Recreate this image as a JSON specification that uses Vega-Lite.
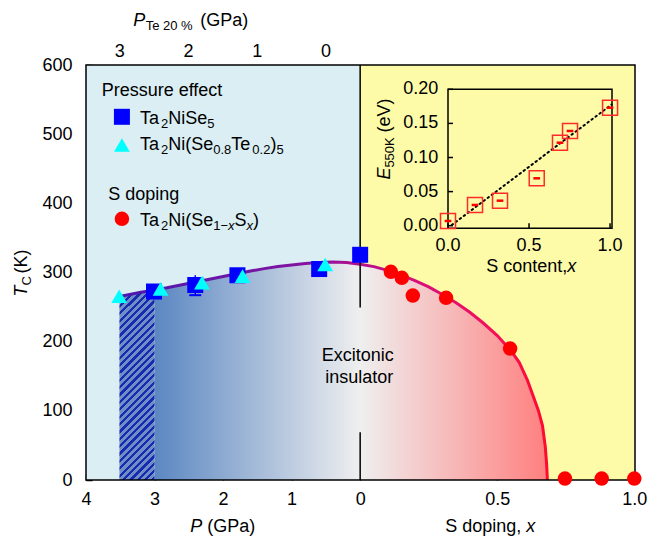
{
"$schema": "https://vega.github.io/schema/vega-lite/v6.json",
"width": 549, "height": 415,
"autosize": {"type": "none"},
"padding": {"left": 86, "top": 65, "right": 14, "bottom": 58},
"config": {
  "view": {"stroke": null},
  "axis": {"grid": false, "domain": false, "labelFont": "Liberation Sans", "labelFontSize": 18, "labelColor": "black", "tickColor": "black", "tickWidth": 1.5, "tickSize": -6, "labelOverlap": false, "labelFlush": false, "zindex": 1},
  "text": {"font": "Liberation Sans", "fontSize": 18, "color": "black"}
},
"datasets": {
  "curve": [
    {"u": -0.878, "T": 265.4}, {"u": -0.85, "T": 267.4}, {"u": -0.8, "T": 271.3}, {"u": -0.75, "T": 274.3},
    {"u": -0.7, "T": 278.3}, {"u": -0.65, "T": 282.2}, {"u": -0.6, "T": 286.2}, {"u": -0.55, "T": 290.2},
    {"u": -0.5, "T": 294.2}, {"u": -0.45, "T": 298.1}, {"u": -0.4, "T": 302.1}, {"u": -0.35, "T": 305.6},
    {"u": -0.3, "T": 308.6}, {"u": -0.25, "T": 311}, {"u": -0.2, "T": 313}, {"u": -0.15, "T": 314.3},
    {"u": -0.1, "T": 315}, {"u": -0.05, "T": 314.5}, {"u": 0, "T": 312}, {"u": 0.05, "T": 308.5},
    {"u": 0.1, "T": 303}, {"u": 0.15, "T": 296.1}, {"u": 0.2, "T": 288.2}, {"u": 0.25, "T": 279.3},
    {"u": 0.3, "T": 268.3}, {"u": 0.35, "T": 256.4}, {"u": 0.4, "T": 242.5}, {"u": 0.45, "T": 226.6},
    {"u": 0.5, "T": 208.8}, {"u": 0.55, "T": 187}, {"u": 0.58, "T": 170.1}, {"u": 0.61, "T": 144.3},
    {"u": 0.63, "T": 122.4}, {"u": 0.65, "T": 100.6}, {"u": 0.665, "T": 78.7}, {"u": 0.675, "T": 49},
    {"u": 0.68, "T": 24.1}, {"u": 0.683, "T": 0}
  ],
  "sq": [{"u": -0.752, "T": 272.5}, {"u": -0.6015, "T": 281.9}, {"u": -0.4477, "T": 296}, {"u": -0.1495, "T": 305}, {"u": 0, "T": 325.6}],
  "tri": [{"u": -0.879, "T": 265.7}, {"u": -0.728, "T": 276.4}, {"u": -0.577, "T": 285.4}, {"u": -0.429, "T": 294.7}, {"u": -0.1276, "T": 311.6}],
  "circ": [{"u": 0.112, "T": 301}, {"u": 0.152, "T": 292.3}, {"u": 0.192, "T": 266.7}, {"u": 0.3135, "T": 263.4}, {"u": 0.547, "T": 190.1}, {"u": 0.747, "T": 2}, {"u": 0.881, "T": 2}, {"u": 1.0, "T": 2}],
  "inset": [{"x": 0, "E": 0.0069}, {"x": 0.1667, "E": 0.0304}, {"x": 0.321, "E": 0.0367}, {"x": 0.5475, "E": 0.0695}, {"x": 0.691, "E": 0.1217}, {"x": 0.753, "E": 0.1389}, {"x": 1.0, "E": 0.173}],
  "fit": [{"x": 0.023, "E": 0.001}, {"x": 1.01, "E": 0.1777}],
  "iyt": [{"v": 0, "lab": "0.00"}, {"v": 0.05, "lab": "0.05"}, {"v": 0.1, "lab": "0.10"}, {"v": 0.15, "lab": "0.15"}, {"v": 0.2, "lab": "0.20"}],
  "ixt": [{"v": 0, "lab": "0.0"}, {"v": 0.5, "lab": "0.5"}, {"v": 1, "lab": "1.0"}]
},
"layer": [
 {
  "data": {"values": [{}]},
  "layer": [
   {"mark": {"type": "rect", "fill": "#DAEEF3"},
    "encoding": {
      "x": {"datum": -1, "type": "quantitative", "scale": {"domain": [-1, 1.0025], "nice": false, "zero": false}, "axis": null},
      "x2": {"datum": 0},
      "y": {"datum": 0, "type": "quantitative", "scale": {"domain": [0, 600], "nice": false, "zero": false}, "axis": null},
      "y2": {"datum": 600}}},
   {"mark": {"type": "rect", "fill": "#FDFBA8"},
    "encoding": {"x": {"datum": 0, "axis": null}, "x2": {"datum": 1.0025}, "y": {"datum": 0, "axis": null}, "y2": {"datum": 600}}},
   {"data": {"name": "curve"}, "transform": [{"filter": "datum.u >= -0.75"}],
    "mark": {"type": "area", "fill": {"gradient": "linear", "x1": 0, "y1": 0, "x2": 1, "y2": 0, "stops": [{"offset": 0, "color": "#5B87C2"}, {"offset": 0.5234, "color": "#EFEFEF"}, {"offset": 1, "color": "#FF7F7F"}]}},
    "encoding": {"x": {"field": "u", "type": "quantitative", "axis": null}, "y": {"field": "T", "type": "quantitative", "axis": null}}},
   {"data": {"name": "curve"}, "transform": [{"filter": "datum.u <= -0.75"}],
    "mark": {"type": "area", "fill": {"gradient": "linear", "x1": 0, "y1": 0, "x2": 0.2119, "y2": 1.146, "stops": [
      {"offset":0,"color":"#1A2AB0"},{"offset":0.014,"color":"#1A2AB0"},{"offset":0.014,"color":"#6D8FC6"},{"offset":0.0328,"color":"#6D8FC6"},
      {"offset":0.0328,"color":"#1A2AB0"},{"offset":0.0468,"color":"#1A2AB0"},{"offset":0.0468,"color":"#6D8FC6"},{"offset":0.0656,"color":"#6D8FC6"},
      {"offset":0.0656,"color":"#1A2AB0"},{"offset":0.0796,"color":"#1A2AB0"},{"offset":0.0796,"color":"#6D8FC6"},{"offset":0.0984,"color":"#6D8FC6"},
      {"offset":0.0984,"color":"#1A2AB0"},{"offset":0.1124,"color":"#1A2AB0"},{"offset":0.1124,"color":"#6D8FC6"},{"offset":0.1312,"color":"#6D8FC6"},
      {"offset":0.1312,"color":"#1A2AB0"},{"offset":0.1452,"color":"#1A2AB0"},{"offset":0.1452,"color":"#6D8FC6"},{"offset":0.164,"color":"#6D8FC6"},
      {"offset":0.164,"color":"#1A2AB0"},{"offset":0.178,"color":"#1A2AB0"},{"offset":0.178,"color":"#6D8FC6"},{"offset":0.1968,"color":"#6D8FC6"},
      {"offset":0.1968,"color":"#1A2AB0"},{"offset":0.2108,"color":"#1A2AB0"},{"offset":0.2108,"color":"#6D8FC6"},{"offset":0.2296,"color":"#6D8FC6"},
      {"offset":0.2296,"color":"#1A2AB0"},{"offset":0.2436,"color":"#1A2AB0"},{"offset":0.2436,"color":"#6D8FC6"},{"offset":0.2624,"color":"#6D8FC6"},
      {"offset":0.2624,"color":"#1A2AB0"},{"offset":0.2764,"color":"#1A2AB0"},{"offset":0.2764,"color":"#6D8FC6"},{"offset":0.2952,"color":"#6D8FC6"},
      {"offset":0.2952,"color":"#1A2AB0"},{"offset":0.3092,"color":"#1A2AB0"},{"offset":0.3092,"color":"#6D8FC6"},{"offset":0.328,"color":"#6D8FC6"},
      {"offset":0.328,"color":"#1A2AB0"},{"offset":0.342,"color":"#1A2AB0"},{"offset":0.342,"color":"#6D8FC6"},{"offset":0.3608,"color":"#6D8FC6"},
      {"offset":0.3608,"color":"#1A2AB0"},{"offset":0.3748,"color":"#1A2AB0"},{"offset":0.3748,"color":"#6D8FC6"},{"offset":0.3936,"color":"#6D8FC6"},
      {"offset":0.3936,"color":"#1A2AB0"},{"offset":0.4076,"color":"#1A2AB0"},{"offset":0.4076,"color":"#6D8FC6"},{"offset":0.4264,"color":"#6D8FC6"},
      {"offset":0.4264,"color":"#1A2AB0"},{"offset":0.4404,"color":"#1A2AB0"},{"offset":0.4404,"color":"#6D8FC6"},{"offset":0.4592,"color":"#6D8FC6"},
      {"offset":0.4592,"color":"#1A2AB0"},{"offset":0.4732,"color":"#1A2AB0"},{"offset":0.4732,"color":"#6D8FC6"},{"offset":0.492,"color":"#6D8FC6"},
      {"offset":0.492,"color":"#1A2AB0"},{"offset":0.506,"color":"#1A2AB0"},{"offset":0.506,"color":"#6D8FC6"},{"offset":0.5248,"color":"#6D8FC6"},
      {"offset":0.5248,"color":"#1A2AB0"},{"offset":0.5388,"color":"#1A2AB0"},{"offset":0.5388,"color":"#6D8FC6"},{"offset":0.5576,"color":"#6D8FC6"},
      {"offset":0.5576,"color":"#1A2AB0"},{"offset":0.5716,"color":"#1A2AB0"},{"offset":0.5716,"color":"#6D8FC6"},{"offset":0.5904,"color":"#6D8FC6"},
      {"offset":0.5904,"color":"#1A2AB0"},{"offset":0.6044,"color":"#1A2AB0"},{"offset":0.6044,"color":"#6D8FC6"},{"offset":0.6232,"color":"#6D8FC6"},
      {"offset":0.6232,"color":"#1A2AB0"},{"offset":0.6372,"color":"#1A2AB0"},{"offset":0.6372,"color":"#6D8FC6"},{"offset":0.656,"color":"#6D8FC6"},
      {"offset":0.656,"color":"#1A2AB0"},{"offset":0.67,"color":"#1A2AB0"},{"offset":0.67,"color":"#6D8FC6"},{"offset":0.6888,"color":"#6D8FC6"},
      {"offset":0.6888,"color":"#1A2AB0"},{"offset":0.7028,"color":"#1A2AB0"},{"offset":0.7028,"color":"#6D8FC6"},{"offset":0.7216,"color":"#6D8FC6"},
      {"offset":0.7216,"color":"#1A2AB0"},{"offset":0.7356,"color":"#1A2AB0"},{"offset":0.7356,"color":"#6D8FC6"},{"offset":0.7544,"color":"#6D8FC6"},
      {"offset":0.7544,"color":"#1A2AB0"},{"offset":0.7684,"color":"#1A2AB0"},{"offset":0.7684,"color":"#6D8FC6"},{"offset":0.7872,"color":"#6D8FC6"},
      {"offset":0.7872,"color":"#1A2AB0"},{"offset":0.8012,"color":"#1A2AB0"},{"offset":0.8012,"color":"#6D8FC6"},{"offset":0.82,"color":"#6D8FC6"},
      {"offset":0.82,"color":"#1A2AB0"},{"offset":0.834,"color":"#1A2AB0"},{"offset":0.834,"color":"#6D8FC6"},{"offset":0.8528,"color":"#6D8FC6"},
      {"offset":0.8528,"color":"#1A2AB0"},{"offset":0.8668,"color":"#1A2AB0"},{"offset":0.8668,"color":"#6D8FC6"},{"offset":0.8856,"color":"#6D8FC6"},
      {"offset":0.8856,"color":"#1A2AB0"},{"offset":0.8996,"color":"#1A2AB0"},{"offset":0.8996,"color":"#6D8FC6"},{"offset":0.9184,"color":"#6D8FC6"},
      {"offset":0.9184,"color":"#1A2AB0"},{"offset":0.9324,"color":"#1A2AB0"},{"offset":0.9324,"color":"#6D8FC6"},{"offset":0.9512,"color":"#6D8FC6"},
      {"offset":0.9512,"color":"#1A2AB0"},{"offset":0.9652,"color":"#1A2AB0"},{"offset":0.9652,"color":"#6D8FC6"},{"offset":0.984,"color":"#6D8FC6"},
      {"offset":0.984,"color":"#1A2AB0"},{"offset":0.998,"color":"#1A2AB0"},{"offset":0.998,"color":"#6D8FC6"},{"offset":1,"color":"#6D8FC6"}
    ]}},
    "encoding": {"x": {"field": "u", "type": "quantitative", "axis": null}, "y": {"field": "T", "type": "quantitative", "axis": null}}},
   {"data": {"name": "curve"},
    "mark": {"type": "line", "strokeWidth": 3, "stroke": {"gradient": "linear", "x1": 0, "y1": 0, "x2": 1, "y2": 0, "stops": [{"offset": 0, "color": "#4A18B0"}, {"offset": 0.42, "color": "#8214A0"}, {"offset": 0.5625, "color": "#B4108C"}, {"offset": 0.7, "color": "#D8107A"}, {"offset": 0.87, "color": "#F5105A"}, {"offset": 1, "color": "#FF0A2E"}]}},
    "encoding": {"x": {"field": "u", "type": "quantitative", "axis": null}, "y": {"field": "T", "type": "quantitative", "axis": null}}},
   {"mark": {"type": "rule", "color": "black", "strokeWidth": 1.5},
    "encoding": {"x": {"datum": 0, "axis": null}, "y": {"datum": 249.4, "axis": null}, "y2": {"datum": 600}}},
   {"mark": {"type": "rule", "color": "black", "strokeWidth": 1.5},
    "encoding": {"x": {"datum": 0, "axis": null}, "y": {"datum": 0, "axis": null}, "y2": {"datum": 69.1}}},
   {"mark": {"type": "rect", "fill": "transparent", "stroke": "black", "strokeWidth": 1.5},
    "encoding": {"x": {"datum": -1, "axis": null}, "x2": {"datum": 1.0025}, "y": {"datum": 0, "axis": null}, "y2": {"datum": 600}}},
   {"mark": {"type": "rule", "color": "#0000FF", "strokeWidth": 1.5},
    "encoding": {"x": {"datum": -0.6015, "axis": null}, "y": {"datum": 267.2, "axis": null}, "y2": {"datum": 296}}},
   {"mark": {"type": "point", "shape": "M-1,0L1,0", "filled": false, "stroke": "#0000FF", "strokeWidth": 2, "size": 144, "opacity": 1},
    "encoding": {"x": {"datum": -0.6015, "axis": null}, "y": {"datum": 267.2, "axis": null}}},
   {"data": {"name": "sq"}, "mark": {"type": "point", "shape": "square", "filled": true, "color": "#0000FF", "size": 256, "opacity": 1},
    "encoding": {"x": {"field": "u", "type": "quantitative", "axis": null}, "y": {"field": "T", "type": "quantitative", "axis": null}}},
   {"data": {"name": "tri"}, "mark": {"type": "point", "shape": "triangle-up", "filled": true, "color": "#00FFFF", "size": 250, "opacity": 1},
    "encoding": {"x": {"field": "u", "type": "quantitative", "axis": null}, "y": {"field": "T", "type": "quantitative", "axis": null}}},
   {"data": {"name": "circ"}, "mark": {"type": "point", "shape": "circle", "filled": true, "color": "#FF0000", "size": 210, "opacity": 1},
    "encoding": {"x": {"field": "u", "type": "quantitative", "axis": null}, "y": {"field": "T", "type": "quantitative", "axis": null}}},
   {"mark": {"type": "point", "shape": "square", "filled": true, "color": "#0000FF", "size": 256, "opacity": 1},
    "encoding": {"x": {"datum": -0.869, "axis": null}, "y": {"datum": 525.1, "axis": null}}},
   {"mark": {"type": "point", "shape": "triangle-up", "filled": true, "color": "#00FFFF", "size": 250, "opacity": 1},
    "encoding": {"x": {"datum": -0.869, "axis": null}, "y": {"datum": 484.3, "axis": null}}},
   {"mark": {"type": "point", "shape": "circle", "filled": true, "color": "#FF0000", "size": 210, "opacity": 1},
    "encoding": {"x": {"datum": -0.869, "axis": null}, "y": {"datum": 377.6, "axis": null}}},

   {"mark": {"type": "text", "text": "Pressure effect", "align": "left", "baseline": "alphabetic"},
    "encoding": {"x": {"datum": -0.943, "axis": null}, "y": {"datum": 555.9, "axis": null}}},
   {"mark": {"type": "text", "text": "S doping", "align": "left", "baseline": "alphabetic"},
    "encoding": {"x": {"datum": -0.9186, "axis": null}, "y": {"datum": 405.5, "axis": null}}},

   {"mark": {"type": "text", "text": "Ta", "align": "left", "baseline": "alphabetic"}, "encoding": {"x": {"datum": -0.803, "axis": null}, "y": {"datum": 515, "axis": null}}},
   {"mark": {"type": "text", "text": "2", "align": "left", "baseline": "alphabetic", "fontSize": 13, "dx": 21, "dy": 4}, "encoding": {"x": {"datum": -0.803, "axis": null}, "y": {"datum": 515, "axis": null}}},
   {"mark": {"type": "text", "text": "NiSe", "align": "left", "baseline": "alphabetic", "dx": 28.2}, "encoding": {"x": {"datum": -0.803, "axis": null}, "y": {"datum": 515, "axis": null}}},
   {"mark": {"type": "text", "text": "5", "align": "left", "baseline": "alphabetic", "fontSize": 13, "dx": 67.2, "dy": 4}, "encoding": {"x": {"datum": -0.803, "axis": null}, "y": {"datum": 515, "axis": null}}},

   {"mark": {"type": "text", "text": "Ta", "align": "left", "baseline": "alphabetic"}, "encoding": {"x": {"datum": -0.803, "axis": null}, "y": {"datum": 476.8, "axis": null}}},
   {"mark": {"type": "text", "text": "2", "align": "left", "baseline": "alphabetic", "fontSize": 13, "dx": 21, "dy": 4}, "encoding": {"x": {"datum": -0.803, "axis": null}, "y": {"datum": 476.8, "axis": null}}},
   {"mark": {"type": "text", "text": "Ni(Se", "align": "left", "baseline": "alphabetic", "dx": 28.2}, "encoding": {"x": {"datum": -0.803, "axis": null}, "y": {"datum": 476.8, "axis": null}}},
   {"mark": {"type": "text", "text": "0.8", "align": "left", "baseline": "alphabetic", "fontSize": 13, "dx": 73.2, "dy": 4}, "encoding": {"x": {"datum": -0.803, "axis": null}, "y": {"datum": 476.8, "axis": null}}},
   {"mark": {"type": "text", "text": "Te", "align": "left", "baseline": "alphabetic", "dx": 91.3}, "encoding": {"x": {"datum": -0.803, "axis": null}, "y": {"datum": 476.8, "axis": null}}},
   {"mark": {"type": "text", "text": "0.2", "align": "left", "baseline": "alphabetic", "fontSize": 13, "dx": 112.3, "dy": 4}, "encoding": {"x": {"datum": -0.803, "axis": null}, "y": {"datum": 476.8, "axis": null}}},
   {"mark": {"type": "text", "text": ")", "align": "left", "baseline": "alphabetic", "dx": 130.4}, "encoding": {"x": {"datum": -0.803, "axis": null}, "y": {"datum": 476.8, "axis": null}}},
   {"mark": {"type": "text", "text": "5", "align": "left", "baseline": "alphabetic", "fontSize": 13, "dx": 136.4, "dy": 4}, "encoding": {"x": {"datum": -0.803, "axis": null}, "y": {"datum": 476.8, "axis": null}}},

   {"mark": {"type": "text", "text": "Ta", "align": "left", "baseline": "alphabetic"}, "encoding": {"x": {"datum": -0.803, "axis": null}, "y": {"datum": 366.9, "axis": null}}},
   {"mark": {"type": "text", "text": "2", "align": "left", "baseline": "alphabetic", "fontSize": 13, "dx": 21, "dy": 4}, "encoding": {"x": {"datum": -0.803, "axis": null}, "y": {"datum": 366.9, "axis": null}}},
   {"mark": {"type": "text", "text": "Ni(Se", "align": "left", "baseline": "alphabetic", "dx": 28.2}, "encoding": {"x": {"datum": -0.803, "axis": null}, "y": {"datum": 366.9, "axis": null}}},
   {"mark": {"type": "text", "text": "1−", "align": "left", "baseline": "alphabetic", "fontSize": 13, "dx": 73.2, "dy": 4}, "encoding": {"x": {"datum": -0.803, "axis": null}, "y": {"datum": 366.9, "axis": null}}},
   {"mark": {"type": "text", "text": "x", "align": "left", "baseline": "alphabetic", "fontSize": 13, "fontStyle": "italic", "dx": 88, "dy": 4}, "encoding": {"x": {"datum": -0.803, "axis": null}, "y": {"datum": 366.9, "axis": null}}},
   {"mark": {"type": "text", "text": "S", "align": "left", "baseline": "alphabetic", "dx": 94.5}, "encoding": {"x": {"datum": -0.803, "axis": null}, "y": {"datum": 366.9, "axis": null}}},
   {"mark": {"type": "text", "text": "x", "align": "left", "baseline": "alphabetic", "fontSize": 13, "fontStyle": "italic", "dx": 106.5, "dy": 4}, "encoding": {"x": {"datum": -0.803, "axis": null}, "y": {"datum": 366.9, "axis": null}}},
   {"mark": {"type": "text", "text": ")", "align": "left", "baseline": "alphabetic", "dx": 113}, "encoding": {"x": {"datum": -0.803, "axis": null}, "y": {"datum": 366.9, "axis": null}}},

   {"mark": {"type": "text", "text": "Excitonic", "align": "center", "baseline": "alphabetic"}, "encoding": {"x": {"datum": -0.009, "axis": null}, "y": {"datum": 171.8, "axis": null}}},
   {"mark": {"type": "text", "text": "insulator", "align": "center", "baseline": "alphabetic"}, "encoding": {"x": {"datum": -0.003, "axis": null}, "y": {"datum": 140.5, "axis": null}}},

   {"mark": {"type": "text", "text": "T", "align": "left", "baseline": "alphabetic", "angle": 270, "fontStyle": "italic"}, "encoding": {"x": {"datum": -1.215, "axis": null}, "y": {"datum": 265.3, "axis": null}}},
   {"mark": {"type": "text", "text": "C", "align": "left", "baseline": "alphabetic", "angle": 270, "fontSize": 13, "dx": 11, "dy": 4}, "encoding": {"x": {"datum": -1.215, "axis": null}, "y": {"datum": 265.3, "axis": null}}},
   {"mark": {"type": "text", "text": "(K)", "align": "left", "baseline": "alphabetic", "angle": 270, "dx": 23}, "encoding": {"x": {"datum": -1.215, "axis": null}, "y": {"datum": 265.3, "axis": null}}},

   {"mark": {"type": "text", "text": "P", "align": "left", "baseline": "alphabetic", "fontStyle": "italic"}, "encoding": {"x": {"datum": -0.828, "axis": null}, "y": {"datum": 657.1, "axis": null}}},
   {"mark": {"type": "text", "text": "Te 20 %", "align": "left", "baseline": "alphabetic", "fontSize": 13, "dx": 12.5, "dy": 4}, "encoding": {"x": {"datum": -0.828, "axis": null}, "y": {"datum": 657.1, "axis": null}}},
   {"mark": {"type": "text", "text": "(GPa)", "align": "left", "baseline": "alphabetic", "dx": 67}, "encoding": {"x": {"datum": -0.828, "axis": null}, "y": {"datum": 657.1, "axis": null}}},

   {"mark": {"type": "text", "text": "P", "align": "left", "baseline": "alphabetic", "fontStyle": "italic"}, "encoding": {"x": {"datum": -0.62, "axis": null}, "y": {"datum": -75.9, "axis": null}}},
   {"mark": {"type": "text", "text": "(GPa)", "align": "left", "baseline": "alphabetic", "dx": 17}, "encoding": {"x": {"datum": -0.62, "axis": null}, "y": {"datum": -75.9, "axis": null}}},
   {"mark": {"type": "text", "text": "S doping,", "align": "left", "baseline": "alphabetic"}, "encoding": {"x": {"datum": 0.31, "axis": null}, "y": {"datum": -75.9, "axis": null}}},
   {"mark": {"type": "text", "text": "x", "align": "left", "baseline": "alphabetic", "fontStyle": "italic", "dx": 81}, "encoding": {"x": {"datum": 0.31, "axis": null}, "y": {"datum": -75.9, "axis": null}}},

   {"mark": {"type": "text", "text": "S content,", "align": "left", "baseline": "alphabetic"}, "encoding": {"x": {"datum": 0.4599, "axis": null}, "y": {"datum": 301.4, "axis": null}}},
   {"mark": {"type": "text", "text": "x", "align": "left", "baseline": "alphabetic", "fontStyle": "italic", "dx": 81}, "encoding": {"x": {"datum": 0.4599, "axis": null}, "y": {"datum": 301.4, "axis": null}}},

   {"mark": {"type": "text", "text": "E", "align": "left", "baseline": "alphabetic", "angle": 270, "fontStyle": "italic"}, "encoding": {"x": {"datum": 0.1095, "axis": null}, "y": {"datum": 434.3, "axis": null}}},
   {"mark": {"type": "text", "text": "550K", "align": "left", "baseline": "alphabetic", "angle": 270, "fontSize": 13, "dx": 12, "dy": 4}, "encoding": {"x": {"datum": 0.1095, "axis": null}, "y": {"datum": 434.3, "axis": null}}},
   {"mark": {"type": "text", "text": "(eV)", "align": "left", "baseline": "alphabetic", "angle": 270, "dx": 47}, "encoding": {"x": {"datum": 0.1095, "axis": null}, "y": {"datum": 434.3, "axis": null}}}
  ]
 },
 {
  "data": {"values": [{}]},
  "mark": {"type": "point", "opacity": 0},
  "encoding": {"x": {"datum": 0, "type": "quantitative", "scale": {"domain": [-1, 1.0025], "nice": false, "zero": false},
     "axis": {"orient": "bottom", "values": [-1, -0.75, -0.5, -0.25, 0, 0.5, 1], "labelExpr": "datum.value < -0.9 ? '4' : datum.value < -0.7 ? '3' : datum.value < -0.4 ? '2' : datum.value < -0.1 ? '1' : datum.value < 0.1 ? '0' : datum.value < 0.7 ? '0.5' : '1.0'", "labelPadding": 16, "title": null}}}
 },
 {
  "data": {"values": [{}]},
  "mark": {"type": "point", "opacity": 0},
  "encoding": {"y": {"datum": 0, "type": "quantitative", "scale": {"domain": [0, 600], "nice": false, "zero": false},
     "axis": {"orient": "left", "values": [0, 100, 200, 300, 400, 500, 600], "labelPadding": 20, "title": null}}}
 },
 {
  "data": {"values": [{}]},
  "mark": {"type": "point", "opacity": 0},
  "encoding": {"x": {"datum": 0, "type": "quantitative", "scale": {"domain": [-1, 1.0025], "nice": false, "zero": false},
     "axis": {"orient": "top", "values": [-0.879, -0.628, -0.377, -0.126], "labelExpr": "datum.value < -0.8 ? '3' : datum.value < -0.5 ? '2' : datum.value < -0.25 ? '1' : '0'", "labelPadding": 10.5, "title": null}}}
 },
 {
  "layer": [
   {"data": {"values": [{}]},
    "mark": {"type": "rect", "fill": "transparent", "stroke": "black", "strokeWidth": 1.5},
    "encoding": {
      "x": {"datum": 0, "type": "quantitative", "scale": {"domain": [0, 1.012], "range": [362, 526], "nice": false, "zero": false}, "axis": null},
      "x2": {"datum": 1.012},
      "y": {"datum": -0.0038, "type": "quantitative", "scale": {"domain": [-0.0038, 0.2], "range": [163.3, 24.3], "nice": false, "zero": false}, "axis": null},
      "y2": {"datum": 0.2}}},
   {"data": {"name": "iyt"},
    "mark": {"type": "point", "shape": "M0,0L1,0", "filled": false, "stroke": "black", "strokeWidth": 1.5, "size": 100, "opacity": 1},
    "encoding": {"x": {"datum": 0, "axis": null}, "y": {"field": "v", "type": "quantitative", "axis": null}}},
   {"data": {"name": "iyt"},
    "mark": {"type": "text", "align": "right", "baseline": "middle", "dx": -9.7},
    "encoding": {"x": {"datum": 0, "axis": null}, "y": {"field": "v", "type": "quantitative", "axis": null}, "text": {"field": "lab"}}},
   {"data": {"name": "ixt"},
    "mark": {"type": "point", "shape": "M0,0L0,-1", "filled": false, "stroke": "black", "strokeWidth": 1.5, "size": 100, "opacity": 1},
    "encoding": {"x": {"field": "v", "type": "quantitative", "axis": null}, "y": {"datum": -0.0038, "axis": null}}},
   {"data": {"name": "ixt"},
    "mark": {"type": "text", "align": "center", "baseline": "top", "dy": 9},
    "encoding": {"x": {"field": "v", "type": "quantitative", "axis": null}, "y": {"datum": -0.0038, "axis": null}, "text": {"field": "lab"}}},
   {"data": {"name": "fit"},
    "mark": {"type": "line", "color": "black", "strokeWidth": 2, "strokeDash": [1.5, 3.5], "strokeCap": "round"},
    "encoding": {"x": {"field": "x", "type": "quantitative", "axis": null}, "y": {"field": "E", "type": "quantitative", "axis": null}}},
   {"data": {"name": "inset"},
    "mark": {"type": "point", "shape": "square", "filled": false, "stroke": "#FF2A2A", "strokeWidth": 1.5, "size": 225, "opacity": 1},
    "encoding": {"x": {"field": "x", "type": "quantitative", "axis": null}, "y": {"field": "E", "type": "quantitative", "axis": null}}},
   {"data": {"name": "inset"},
    "mark": {"type": "point", "shape": "M-1,0L1,0", "filled": false, "stroke": "#FF0000", "strokeWidth": 2.5, "size": 45, "opacity": 1},
    "encoding": {"x": {"field": "x", "type": "quantitative", "axis": null}, "y": {"field": "E", "type": "quantitative", "axis": null}}}
  ]
 }
],
"resolve": {"scale": {"x": "independent", "y": "independent"}, "axis": {"x": "independent", "y": "independent"}}
}
